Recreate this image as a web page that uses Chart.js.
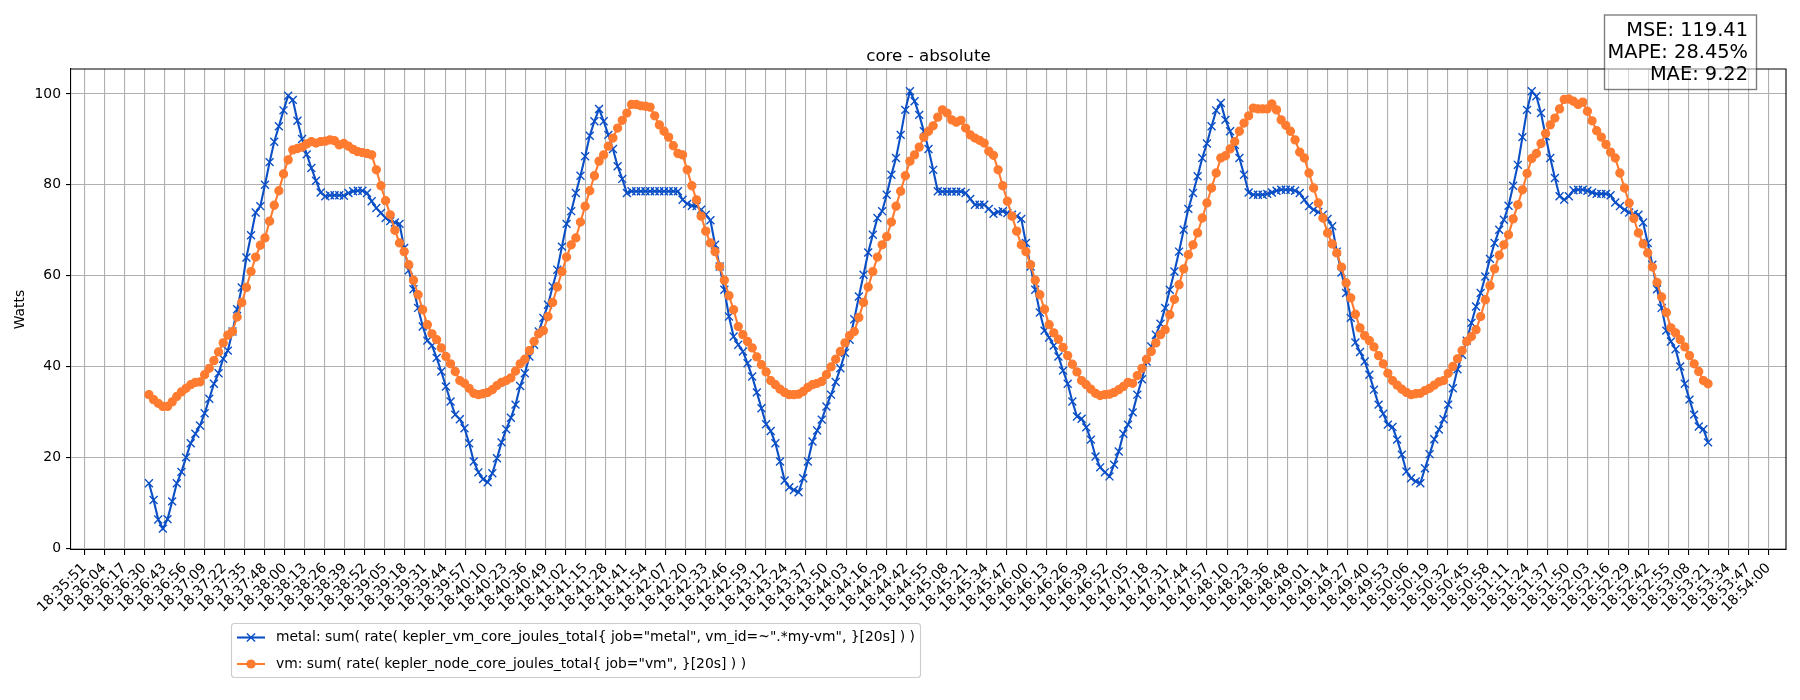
<!DOCTYPE html>
<html>
<head>
<meta charset="utf-8">
<title>core - absolute</title>
<script src="https://cdn.jsdelivr.net/npm/chart.js@4.4.1/dist/chart.umd.min.js"></script>
<style>
  html, body { margin: 0; padding: 0; background: #fff; }
  #chart-wrapper { width: 1800px; height: 700px; }
</style>
</head>
<body>
<div id="chart-wrapper">
    <canvas id="core-absolute" width="1800" height="700"></canvas>
</div>

<script>
// x tick labels, one every tickStep seconds starting at 18:35:51
const tickLabels = ['18:35:51','18:36:04','18:36:17','18:36:30','18:36:43','18:36:56','18:37:09','18:37:22','18:37:35','18:37:48',
    '18:38:00','18:38:13','18:38:26','18:38:39','18:38:52','18:39:05','18:39:18','18:39:31','18:39:44','18:39:57',
    '18:40:10','18:40:23','18:40:36','18:40:49','18:41:02','18:41:15','18:41:28','18:41:41','18:41:54','18:42:07',
    '18:42:20','18:42:33','18:42:46','18:42:59','18:43:12','18:43:24','18:43:37','18:43:50','18:44:03','18:44:16',
    '18:44:29','18:44:42','18:44:55','18:45:08','18:45:21','18:45:34','18:45:47','18:46:00','18:46:13','18:46:26',
    '18:46:39','18:46:52','18:47:05','18:47:18','18:47:31','18:47:44','18:47:57','18:48:10','18:48:23','18:48:36',
    '18:48:48','18:49:01','18:49:14','18:49:27','18:49:40','18:49:53','18:50:06','18:50:19','18:50:32','18:50:45',
    '18:50:58','18:51:11','18:51:24','18:51:37','18:51:50','18:52:03','18:52:16','18:52:29','18:52:42','18:52:55',
    '18:53:08','18:53:21','18:53:34','18:53:47','18:54:00'];
const tickStep = 12.964;      // seconds between tick labels
const sampleStart = 41.9;     // first sample, seconds after 18:35:51
const sampleStep = 3;         // prometheus step

const yTicks = [0, 20, 40, 60, 80, 100];

const metalWatts = [14.3, 10.6, 6.3, 4.3, 6.4, 10.3, 14.3, 16.8, 20.0, 23.1,
    25.2, 27.0, 29.7, 32.9, 36.2, 38.5, 41.7, 43.5, 47.7, 52.6,
    57.4, 64.0, 68.9, 73.9, 75.3, 80.0, 85.0, 89.5, 92.9, 96.4,
    99.6, 98.7, 94.1, 90.1, 86.7, 83.7, 80.9, 78.3, 77.5, 77.7,
    77.7, 77.7, 77.6, 78.2, 78.6, 78.7, 78.7, 78.2, 76.4, 74.9,
    73.8, 72.7, 72.0, 71.7, 71.4, 66.1, 61.2, 57.0, 52.9, 48.8,
    45.7, 44.6, 41.9, 38.9, 35.6, 32.3, 29.4, 28.4, 26.4, 23.1,
    19.1, 16.7, 15.2, 14.5, 16.5, 19.8, 23.3, 26.2, 28.7, 31.6,
    35.7, 38.5, 42.2, 44.8, 47.7, 50.7, 53.6, 57.6, 61.3, 66.4,
    71.4, 74.2, 78.2, 82.0, 86.3, 90.8, 94.0, 96.7, 94.0, 91.0,
    87.9, 84.1, 81.3, 78.2, 78.6, 78.6, 78.6, 78.6, 78.6, 78.6,
    78.6, 78.6, 78.6, 78.6, 78.6, 76.7, 75.8, 75.4, 75.3, 74.5,
    73.4, 72.2, 66.8, 62.0, 56.9, 51.0, 46.6, 44.8, 43.3, 40.7,
    37.8, 34.3, 30.8, 27.3, 25.8, 23.1, 19.1, 14.9, 13.4, 12.8,
    12.3, 15.4, 19.1, 23.5, 25.9, 28.3, 31.2, 33.8, 36.6, 39.6,
    43.0, 45.9, 50.4, 55.4, 60.2, 65.1, 69.0, 72.7, 74.2, 77.8,
    82.2, 85.9, 91.0, 96.5, 100.6, 98.4, 95.4, 91.8, 87.9, 83.3,
    78.6, 78.5, 78.5, 78.5, 78.5, 78.5, 78.2, 76.9, 75.6, 75.6,
    75.6, 74.7, 73.6, 74.0, 74.2, 73.8, 73.4, 73.1, 72.5, 67.2,
    62.0, 56.9, 51.9, 47.9, 46.4, 44.6, 42.2, 39.1, 36.2, 32.3,
    29.0, 28.5, 26.6, 23.9, 20.2, 17.8, 16.7, 15.8, 18.4, 21.3,
    25.2, 27.2, 29.9, 33.8, 37.2, 41.1, 44.4, 47.0, 49.4, 52.9,
    56.9, 60.9, 65.3, 70.1, 74.7, 78.2, 81.9, 85.9, 89.1, 92.9,
    96.4, 98.0, 94.3, 91.8, 88.8, 85.9, 82.2, 78.3, 77.8, 77.8,
    77.8, 78.0, 78.3, 78.7, 78.9, 78.9, 78.9, 78.7, 78.2, 76.7,
    75.3, 74.5, 74.0, 73.4, 72.5, 70.9, 65.3, 60.7, 56.2, 50.7,
    45.3, 43.2, 41.1, 38.2, 34.9, 31.6, 29.6, 27.2, 26.7, 23.9,
    20.6, 16.9, 15.4, 14.7, 14.3, 17.6, 20.7, 24.0, 26.1, 28.4,
    31.6, 35.2, 39.4, 42.6, 45.7, 49.6, 53.2, 56.2, 59.8, 63.7,
    67.2, 70.1, 72.3, 75.4, 79.8, 84.4, 90.5, 96.5, 100.6, 99.5,
    95.8, 90.7, 85.9, 81.5, 77.5, 76.7, 77.5, 78.8, 78.9, 78.9,
    78.7, 78.3, 78.0, 78.0, 78.0, 77.7, 76.1, 75.3, 74.5, 73.9,
    73.6, 73.4, 71.7, 67.2, 62.4, 57.0, 52.9, 47.9, 45.5, 43.8,
    40.0, 36.2, 32.7, 29.4, 26.8, 26.2, 23.3];

const vmWatts = [33.8, 32.7, 31.9, 31.2, 31.2, 32.2, 33.4, 34.4, 35.2, 36.0,
    36.5, 36.6, 38.2, 39.6, 41.3, 43.2, 45.2, 46.9, 47.7, 50.9,
    54.1, 57.4, 60.9, 64.1, 66.7, 68.3, 72.0, 75.5, 78.7, 82.4,
    85.5, 87.7, 88.0, 88.3, 89.0, 89.5, 89.2, 89.5, 89.6, 89.9,
    89.7, 88.8, 89.1, 88.5, 87.8, 87.3, 87.1, 86.9, 86.6, 83.3,
    79.8, 76.5, 73.4, 70.0, 67.2, 65.3, 62.4, 59.0, 55.8, 52.5,
    49.2, 47.2, 45.9, 44.1, 42.2, 40.6, 38.9, 36.9, 36.3, 35.2,
    34.1, 33.8, 34.0, 34.3, 34.9, 35.8, 36.5, 36.9, 37.5, 39.0,
    40.6, 41.6, 43.5, 45.5, 47.2, 47.9, 51.0, 54.1, 57.5, 60.9,
    64.1, 66.8, 68.3, 71.8, 75.3, 78.7, 82.0, 85.2, 86.6, 88.5,
    90.3, 92.5, 94.2, 95.8, 97.7, 97.7, 97.4, 97.3, 97.1, 95.2,
    93.2, 91.8, 90.5, 88.6, 86.9, 86.6, 83.3, 79.8, 76.7, 73.1,
    69.8, 67.2, 65.3, 62.0, 59.0, 55.6, 52.5, 48.8, 47.0, 45.5,
    44.1, 42.1, 40.4, 38.8, 36.9, 36.0, 35.0, 34.3, 33.8, 33.8,
    33.9, 34.5, 35.4, 36.0, 36.3, 36.7, 38.2, 39.9, 41.6, 43.3,
    45.2, 46.8, 47.7, 50.8, 54.1, 57.5, 60.9, 64.1, 66.8, 68.6,
    71.8, 75.3, 78.6, 82.0, 85.2, 86.6, 88.3, 90.5, 91.8, 93.0,
    94.9, 96.5, 95.8, 94.3, 93.8, 94.2, 92.5, 91.0, 90.3, 89.8,
    89.2, 87.4, 86.5, 83.3, 79.8, 76.4, 73.1, 69.8, 66.8, 65.3,
    62.4, 59.0, 55.8, 52.6, 49.2, 47.4, 46.0, 44.2, 42.4, 40.5,
    38.8, 36.9, 36.0, 35.0, 34.1, 33.6, 33.8, 33.9, 34.3, 34.9,
    35.6, 36.5, 36.3, 38.0, 39.6, 41.6, 43.3, 45.2, 47.0, 48.1,
    51.4, 54.8, 58.0, 61.5, 64.6, 66.8, 69.4, 72.7, 76.0, 79.3,
    82.6, 85.9, 86.4, 87.9, 89.5, 91.8, 93.6, 95.2, 96.9, 96.7,
    96.7, 96.7, 97.8, 96.5, 94.3, 93.1, 91.8, 89.9, 87.2, 85.9,
    82.6, 79.3, 76.0, 72.7, 69.4, 67.0, 65.0, 61.9, 58.4, 55.1,
    51.5, 48.5, 46.8, 45.7, 44.3, 42.4, 40.6, 38.5, 36.9, 35.9,
    35.0, 34.3, 33.8, 34.0, 34.1, 34.7, 35.2, 35.9, 36.6, 36.9,
    38.5, 40.0, 41.7, 43.5, 45.5, 46.6, 48.1, 51.0, 54.7, 57.8,
    61.5, 64.5, 66.8, 69.0, 72.5, 75.6, 78.9, 82.5, 85.8, 86.9,
    89.1, 91.3, 93.2, 94.7, 96.7, 98.8, 98.9, 98.4, 97.7, 98.2,
    96.2, 94.1, 91.9, 90.5, 88.9, 87.2, 85.9, 82.6, 79.3, 76.0,
    72.6, 69.4, 67.0, 65.0, 61.9, 58.5, 55.3, 51.9, 48.5, 47.4,
    45.9, 44.3, 42.4, 40.6, 38.9, 36.9, 36.2];

const chartTitle = 'core - absolute';
const metalLabel = 'metal: sum( rate( kepler_vm_core_joules_total{ job="metal", vm_id=~".*my-vm", }[20s] ) )';
const vmLabel = 'vm: sum( rate( kepler_node_core_joules_total{ job="vm", }[20s] ) )';
const statLines = ['MSE: 119.41', 'MAPE: 28.45%', 'MAE: 9.22'];

const metalColor = '#0b4fc6';
const vmColor = '#ff7b30';
const FONT = '"DejaVu Sans", sans-serif';

function toPoints(values) {
    return values.map((v, i) => ({ x: sampleStart + i * sampleStep, y: v }));
}

// small marker helper for the hand drawn legend
function drawMarker(ctx, style, x, y, color) {
    ctx.save();
    ctx.strokeStyle = color;
    ctx.fillStyle = color;
    if (style === 'circle') {
        ctx.beginPath();
        ctx.arc(x, y, 4.6, 0, Math.PI * 2);
        ctx.fill();
    } else {
        ctx.lineWidth = 1.4;
        ctx.beginPath();
        ctx.moveTo(x - 4.1, y - 4.1); ctx.lineTo(x + 4.1, y + 4.1);
        ctx.moveTo(x - 4.1, y + 4.1); ctx.lineTo(x + 4.1, y - 4.1);
        ctx.stroke();
    }
    ctx.restore();
}

const decorPlugin = {
    id: 'decor',
    afterDraw(chart) {
        const ctx = chart.ctx;
        const a = chart.chartArea;
        ctx.save();

        // top + right spines
        ctx.strokeStyle = '#000';
        ctx.lineWidth = 1.1;
        ctx.beginPath();
        ctx.moveTo(a.left, a.top);
        ctx.lineTo(a.right, a.top);
        ctx.lineTo(a.right, a.bottom);
        ctx.stroke();

        // title
        ctx.fillStyle = '#000';
        ctx.font = '16.7px ' + FONT;
        ctx.textAlign = 'center';
        ctx.textBaseline = 'alphabetic';
        ctx.fillText(chartTitle, (a.left + a.right) / 2, a.top - 8.3);

        // metrics box
        ctx.fillStyle = 'rgba(255,255,255,0.5)';
        ctx.strokeStyle = 'rgba(0,0,0,0.5)';
        ctx.lineWidth = 1.4;
        ctx.fillRect(1604.5, 15, 152, 74.5);
        ctx.strokeRect(1604.5, 15, 152, 74.5);
        ctx.fillStyle = '#000';
        ctx.font = '19.4px ' + FONT;
        ctx.textAlign = 'right';
        statLines.forEach((line, k) => ctx.fillText(line, 1748, 36 + k * 22));

        // legend
        const lx = 231, ly = 623, lw = 689, lh = 54;
        ctx.fillStyle = 'rgba(255,255,255,0.8)';
        ctx.strokeStyle = '#cccccc';
        ctx.lineWidth = 1.1;
        ctx.beginPath();
        ctx.roundRect(lx + 0.5, ly + 0.5, lw, lh, 3);
        ctx.fill();
        ctx.stroke();
        const rows = [
            { label: metalLabel, color: metalColor, marker: 'cross' },
            { label: vmLabel, color: vmColor, marker: 'circle' }
        ];
        ctx.font = '13.9px ' + FONT;
        ctx.textAlign = 'left';
        ctx.textBaseline = 'middle';
        rows.forEach((row, k) => {
            const y = ly + 14.5 + k * 26.5;
            ctx.strokeStyle = row.color;
            ctx.lineWidth = 2.1;
            ctx.beginPath();
            ctx.moveTo(lx + 6, y);
            ctx.lineTo(lx + 34, y);
            ctx.stroke();
            drawMarker(ctx, row.marker, lx + 20, y, row.color);
            ctx.fillStyle = '#000';
            ctx.fillText(row.label, lx + 45, y);
        });

        ctx.restore();
    }
};

const ctx = document.getElementById('core-absolute').getContext('2d');
const coreChart = new Chart(ctx, {
    type: 'line',
    data: {
        datasets: [{
            label: metalLabel,
            data: toPoints(metalWatts),
            borderColor: metalColor,
            backgroundColor: metalColor,
            borderWidth: 2.1,
            pointStyle: 'crossRot',
            pointRadius: 5.6,
            pointBorderWidth: 1.4,
            pointBorderColor: metalColor,
            tension: 0,
            order: 1
        }, {
            label: vmLabel,
            data: toPoints(vmWatts),
            borderColor: vmColor,
            backgroundColor: vmColor,
            borderWidth: 2.1,
            pointStyle: 'circle',
            pointRadius: 4.1,
            pointBorderWidth: 1.1,
            pointBackgroundColor: vmColor,
            pointBorderColor: vmColor,
            tension: 0,
            order: 0
        }]
    },
    options: {
        responsive: false,
        animation: false,
        devicePixelRatio: 1,
        layout: { autoPadding: false, padding: { left: 0, right: 14, top: 69, bottom: 0 } },
        plugins: {
            legend: { display: false },
            title: { display: false },
            tooltip: { enabled: false }
        },
        scales: {
            x: {
                type: 'linear',
                min: -8.5,
                max: 1100.3,
                afterBuildTicks: (scale) => {
                    scale.ticks = tickLabels.map((l, k) => ({ value: k * tickStep }));
                },
                afterFit: (scale) => { scale.height = 150; },
                grid: { color: '#b0b0b0', lineWidth: 1.1, tickColor: '#000', tickWidth: 1.1, tickLength: 5 },
                border: { color: '#000', width: 1.1 },
                ticks: {
                    autoSkip: false,
                    minRotation: 45,
                    maxRotation: 45,
                    padding: 5,
                    color: '#000',
                    font: { family: FONT, size: 13.9 },
                    callback: (value, index) => tickLabels[index]
                }
            },
            y: {
                type: 'linear',
                min: -0.4,
                max: 105.5,
                afterBuildTicks: (scale) => {
                    scale.ticks = yTicks.map(v => ({ value: v }));
                },
                afterFit: (scale) => { scale.width = 71; },
                grid: { color: '#b0b0b0', lineWidth: 1.1, tickColor: '#000', tickWidth: 1.1, tickLength: 5 },
                border: { color: '#000', width: 1.1 },
                title: {
                    display: true,
                    text: 'Watts',
                    color: '#000',
                    font: { family: FONT, size: 13.9 },
                    padding: { top: 12, bottom: 0 }
                },
                ticks: {
                    padding: 5,
                    color: '#000',
                    font: { family: FONT, size: 13.9 }
                }
            }
        }
    },
    plugins: [decorPlugin]
});
</script>
</body>
</html>
